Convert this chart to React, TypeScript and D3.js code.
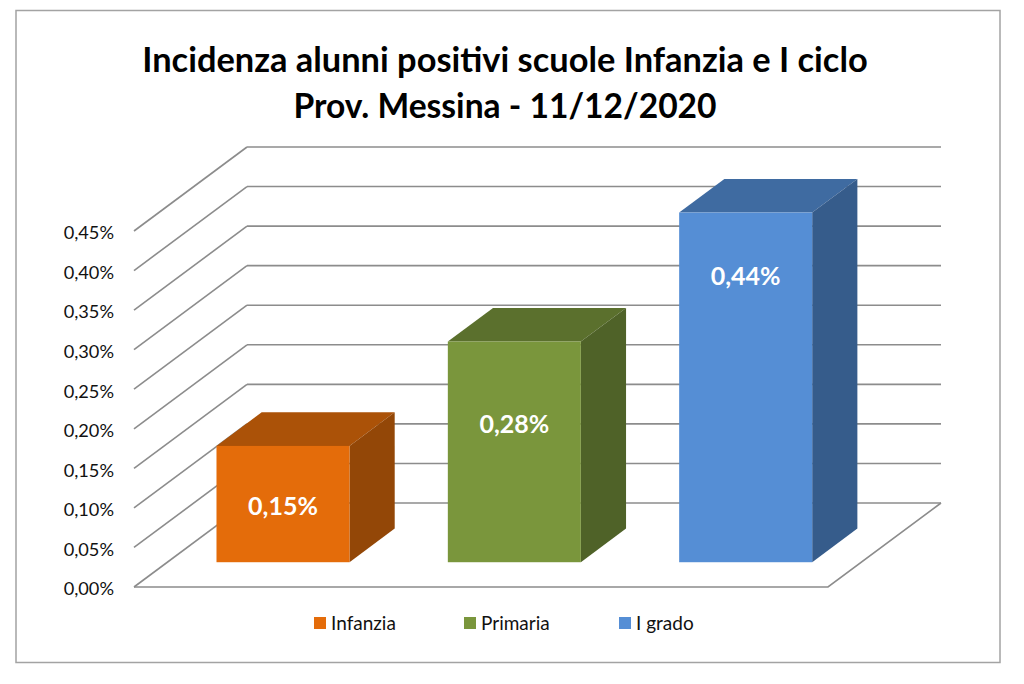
import * as d3 from 'd3';

const categories = ['Infanzia', 'Primaria', 'I grado'];
const values = [0.147, 0.279, 0.442];
const valueLabels = ['0,15%', '0,28%', '0,44%'];
const ticks = [0, 0.05, 0.1, 0.15, 0.2, 0.25, 0.3, 0.35, 0.4, 0.45];
const frontColors = ['#E46C0A', '#7A963C', '#558ED5'];
const topColors = ['#AB5208', '#5B702D', '#3F6BA1'];
const sideColors = ['#934707', '#4F6228', '#365C8B'];
const titleLines = ['Incidenza alunni positivi scuole Infanzia e I ciclo', 'Prov. Messina - 11/12/2020'];

const FONT = 'Lato, "Open Sans", sans-serif';

// oblique offset of the chart floor, front edge to back wall
const depthX = 113;
const depthY = -84;
// bars sit just under 30% into the floor and take up 40% of it
const barInset = 0.295;
const barDepth = 0.4;
// the labels were hand-placed in the original, px below each bar's top
const labelOffset = [60, 83, 64];
const legendX = [314, 464, 619];
const titleSizes = [34.4, 33.6];

export default function App() {
  const y = d3.scaleLinear().domain([0, 0.45]).range([587, 231]);
  const x = d3.scaleBand<string>().domain(categories).range([134, 828]).paddingInner(0.425).paddingOuter(0.2125);
  const poly = d3.line();

  const gridColor = '#8c8c8c';
  const [left, right] = x.range();
  const insetX = depthX * barInset;
  const insetY = depthY * barInset;
  const dx = depthX * barDepth;
  const dy = depthY * barDepth;

  return (
    <svg width={1024} height={684} style={{ position: 'absolute', left: 0, top: 0, background: '#fff' }} fontFamily={FONT}>
      <rect x={16} y={10.5} width={984} height={652} fill="none" stroke="#a3a3a3" strokeWidth={1.5} />

      {titleLines.map((t, i) => (
        <text key={t} x={505} y={72 + i * 46} textAnchor="middle" fontSize={titleSizes[i]} fontWeight={700} fill="#000">
          {t}
        </text>
      ))}

      {/* side wall and back wall gridlines */}
      {ticks.map((t) => (
        <g key={t}>
          <line x1={left} y1={y(t)} x2={left + depthX} y2={y(t) + depthY} stroke={gridColor} strokeWidth={1.6} />
          <line x1={left + depthX} y1={y(t) + depthY} x2={right + depthX} y2={y(t) + depthY} stroke={gridColor} strokeWidth={1.6} />
          <text x={114} y={y(t) + 2} dy="0.35em" textAnchor="end" fontSize={18.2} fill="#111">
            {t.toFixed(2).replace('.', ',')}%
          </text>
        </g>
      ))}

      {/* floor */}
      <path
        d={poly([
          [left, y(0)],
          [right, y(0)],
          [right + depthX, y(0) + depthY],
        ]) ?? undefined}
        fill="none"
        stroke={gridColor}
        strokeWidth={1.6}
      />

      {/* bars */}
      {categories.map((c, i) => {
        const x0 = (x(c) ?? 0) + insetX;
        const x1 = x0 + x.bandwidth();
        const base = y(0) + insetY;
        const top = base - (y(0) - y(values[i]));
        return (
          <g key={c}>
            <path
              d={poly([[x0, top], [x1, top], [x1 + dx, top + dy], [x0 + dx, top + dy]]) + 'Z'}
              fill={topColors[i]}
            />
            <path
              d={poly([[x1, top], [x1 + dx, top + dy], [x1 + dx, base + dy], [x1, base]]) + 'Z'}
              fill={sideColors[i]}
            />
            <rect x={x0} y={top} width={x1 - x0} height={base - top} fill={frontColors[i]} />
            <text
              x={(x0 + x1) / 2}
              y={top + labelOffset[i]}
              dy="0.35em"
              textAnchor="middle"
              fontSize={25}
              fontWeight={700}
              fill="#fff"
            >
              {valueLabels[i]}
            </text>
          </g>
        );
      })}

      {/* legend */}
      {categories.map((c, i) => (
        <g key={c}>
          <rect x={legendX[i]} y={617} width={12} height={12} fill={frontColors[i]} />
          <text x={legendX[i] + 17} y={623} dy="0.35em" fontSize={19} fill="#111">
            {c}
          </text>
        </g>
      ))}
    </svg>
  );
}
